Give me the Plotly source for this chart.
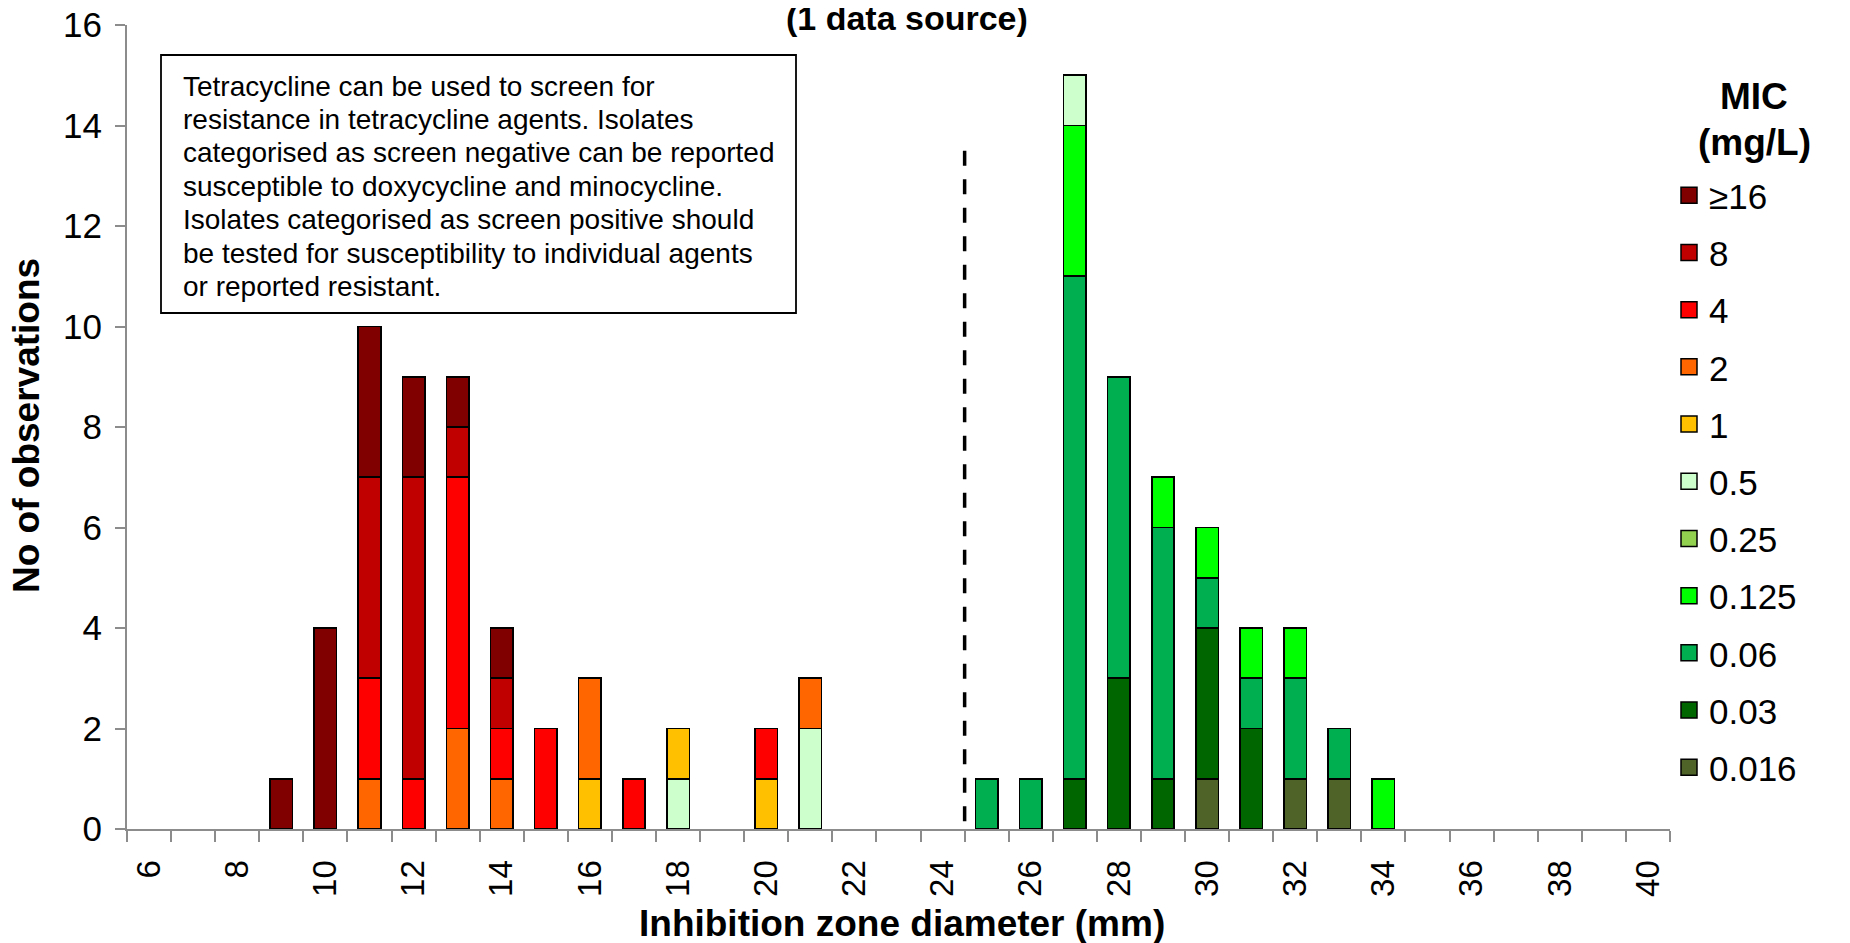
import plotly.graph_objects as go

# ---------------- data ----------------
diameters = list(range(6, 41))
tick_labels = [str(v) for v in range(6, 41, 2)]

mic_labels = ["≥16", "8", "4", "2", "1", "0.5", "0.25", "0.125", "0.06", "0.03", "0.016"]
mic_colors = ["#800000", "#C00000", "#FF0000", "#FF6600", "#FFC000", "#CCFFCC",
              "#92D050", "#00FF00", "#00B050", "#006600", "#4F6228"]

ge16_x = [9, 10, 11, 12, 13, 14]
ge16_y = [1, 4, 3, 2, 1, 1]
m8_x = [11, 12, 13, 14]
m8_y = [4, 6, 1, 1]
m4_x = [11, 12, 13, 14, 15, 17, 20]
m4_y = [2, 1, 5, 1, 2, 1, 1]
m2_x = [11, 13, 14, 16, 21]
m2_y = [1, 2, 1, 2, 1]
m1_x = [16, 18, 20]
m1_y = [1, 1, 1]
m05_x = [18, 21, 27]
m05_y = [1, 2, 1]
m025_x = []
m025_y = []
m0125_x = [27, 29, 30, 31, 32, 34]
m0125_y = [3, 1, 1, 1, 1, 1]
m006_x = [25, 26, 27, 28, 29, 30, 31, 32, 33]
m006_y = [1, 1, 10, 6, 5, 1, 1, 2, 1]
m003_x = [27, 28, 29, 30, 31]
m003_y = [1, 3, 1, 3, 2]
m0016_x = [30, 32, 33]
m0016_y = [1, 1, 1]

series_x = [ge16_x, m8_x, m4_x, m2_x, m1_x, m05_x, m025_x, m0125_x, m006_x, m003_x, m0016_x]
series_y = [ge16_y, m8_y, m4_y, m2_y, m1_y, m05_y, m025_y, m0125_y, m006_y, m003_y, m0016_y]

breakpoint_x = 24.5
breakpoint_top = 13.5

note_lines = [
    "Tetracycline can be used to screen for",
    "resistance in tetracycline agents. Isolates",
    "categorised as screen negative can be reported",
    "susceptible to doxycycline and minocycline.",
    "Isolates categorised as screen positive should",
    "be tested for susceptibility to individual agents",
    "or reported resistant.",
]

# ---------------- layout helpers ----------------
W, H = 1842, 935
PL, PR, PT, PB = 119, 1662, 17, 821
FONT = "Liberation Sans, Arial, sans-serif"


def px_x(p):
    return (p - PL) / (PR - PL)


def px_y(p):
    return (PB - p) / (PB - PT)


fig = go.Figure()

# stacked bars: bottom-most first
for lab, col, xs, ys in reversed(list(zip(mic_labels, mic_colors, series_x, series_y))):
    fig.add_trace(go.Bar(
        x=xs, y=ys, name=lab, showlegend=False,
        marker=dict(color=col, line=dict(color="black", width=1.6)),
        hoverinfo="x+y+name",
    ))

# legend entries
for i, (lab, col) in enumerate(zip(mic_labels, mic_colors)):
    fig.add_trace(go.Scatter(
        x=[None], y=[None], mode="markers", name=lab, legendgroup="g%d" % i,
        marker=dict(symbol="square", size=20, color=col, line=dict(color="black", width=1.5)),
    ))

# breakpoint line (drawn from the top down so the dash pattern starts at the top)
fig.add_trace(go.Scatter(
    x=[breakpoint_x, breakpoint_x], y=[breakpoint_top, 0], mode="lines", showlegend=False,
    line=dict(color="black", width=3.5, dash="15px,13.5px"), hoverinfo="skip",
))

minor_vals = [d - 0.5 for d in diameters] + [diameters[-1] + 0.5]

fig.update_layout(
    width=W, height=H,
    margin=dict(l=PL, r=W - PR, t=PT, b=H - PB, autoexpand=False),
    barmode="stack", bargap=0.49,
    plot_bgcolor="white", paper_bgcolor="white",
    font=dict(family=FONT, color="black", size=35),
    showlegend=True,
    legend=dict(
        x=px_x(1661), xanchor="left", y=px_y(158), yanchor="top",
        traceorder="grouped", tracegroupgap=8.7,
        font=dict(family=FONT, size=35, color="black"),
        bgcolor="rgba(0,0,0,0)", itemclick=False,
    ),
    xaxis=dict(
        range=[5.5, 40.5], showgrid=False, zeroline=False, automargin=False,
        showline=True, linecolor="#8C8C8C", linewidth=2,
        tickmode="array", tickvals=[int(t) for t in tick_labels], ticktext=tick_labels,
        tickangle=-90, ticks="",
        tickfont=dict(family=FONT, size=33, color="black"),
        ticklabelstandoff=16,
        minor=dict(tickmode="array", tickvals=minor_vals, ticks="outside",
                   ticklen=11, tickcolor="#8C8C8C", tickwidth=2, showgrid=False),
    ),
    yaxis=dict(
        range=[0, 16], dtick=2, tick0=0, showgrid=False, zeroline=False, automargin=False,
        showline=True, linecolor="#8C8C8C", linewidth=2,
        ticks="outside", ticklen=10, tickcolor="#8C8C8C", tickwidth=2,
        tickfont=dict(family=FONT, size=35, color="black"),
        ticklabelstandoff=6, ticklabeloverflow="allow",
    ),
)

ann = []
# title
ann.append(dict(text="<b>(1 data source)</b>", x=px_x(899), y=px_y(10), xref="paper", yref="paper",
                showarrow=False, xanchor="center", yanchor="middle",
                font=dict(family=FONT, size=34, color="black")))
# axis titles
ann.append(dict(text="<b>Inhibition zone diameter (mm)</b>", x=px_x(894), y=px_y(915),
                xref="paper", yref="paper", showarrow=False, xanchor="center", yanchor="middle",
                font=dict(family=FONT, size=37, color="black")))
ann.append(dict(text="<b>No of observations</b>", x=px_x(18), y=px_y(418), textangle=-90,
                xref="paper", yref="paper", showarrow=False, xanchor="center", yanchor="middle",
                font=dict(family=FONT, size=37, color="black")))
# legend title
ann.append(dict(text="<b>MIC</b>", x=px_x(1746), y=px_y(88), xref="paper", yref="paper",
                showarrow=False, xanchor="center", yanchor="middle",
                font=dict(family=FONT, size=37, color="black")))
ann.append(dict(text="<b>(mg/L)</b>", x=px_x(1746), y=px_y(134), xref="paper", yref="paper",
                showarrow=False, xanchor="center", yanchor="middle",
                font=dict(family=FONT, size=37, color="black")))
# note text
for i, line in enumerate(note_lines):
    ann.append(dict(text=line, x=px_x(173), y=px_y(78 + i * 33.4), xref="paper", yref="paper",
                    showarrow=False, xanchor="left", yanchor="middle",
                    font=dict(family=FONT, size=28, color="black")))
fig.update_layout(annotations=ann)

fig.add_shape(type="rect", xref="paper", yref="paper",
              x0=px_x(153), x1=px_x(788), y0=px_y(305), y1=px_y(47),
              line=dict(color="black", width=1.8), fillcolor="white", layer="above")

fig.write_html("out.html")
